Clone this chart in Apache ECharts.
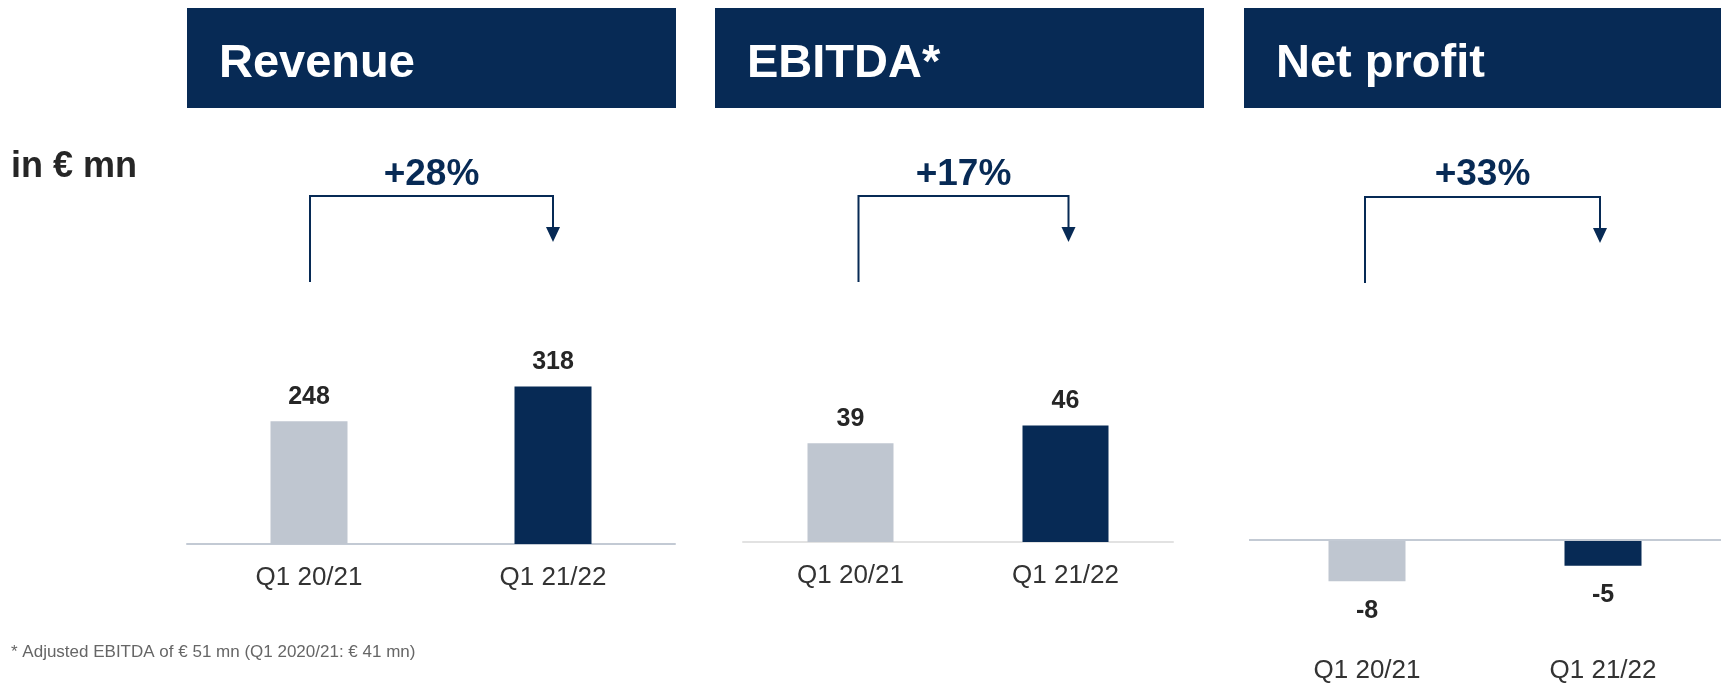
<!DOCTYPE html>
<html>
<head>
<meta charset="utf-8">
<script src="https://cdn.jsdelivr.net/npm/echarts@6/dist/echarts.min.js"></script>
<style>
html,body{margin:0;padding:0;background:#fff;}
#c{width:1721px;height:684px;}
</style>
</head>
<body>
<div id="c"></div>
<script>
const categories = ['Q1 20/21', 'Q1 21/22'];
const panelTitles = ['Revenue', 'EBITDA*', 'Net profit'];
const revenue = [248, 318];
const ebitda = [39, 46];
const netProfit = [-8, -5];
const changeLabels = ['+28%', '+17%', '+33%'];
const unitLabel = 'in € mn';
const footnote = '* Adjusted EBITDA of € 51 mn (Q1 2020/21: € 41 mn)';

const NAVY = '#072A55';
const GRAY = '#BFC6D0';
const barColors = [GRAY, NAVY];
const FONT = '"Liberation Sans", Arial, sans-serif';

const chart = echarts.init(document.getElementById('c'), null, {renderer: 'canvas'});

function barData(arr) {
  return arr.map((v, i) => ({value: v, itemStyle: {color: barColors[i]}}));
}
const valueLabel = {
  show: true, fontFamily: FONT, fontSize: 25, fontWeight: 'bold', color: '#262626'
};
function xAxisCfg(gi, lineColor, showLine, margin) {
  return {
    type: 'category', gridIndex: gi, data: categories,
    axisLine: {show: showLine, onZero: showLine, lineStyle: {color: lineColor, width: 2}},
    axisTick: {show: false},
    axisLabel: {fontFamily: FONT, fontSize: 26, color: '#333333', margin: margin}
  };
}
function yAxisCfg(gi, min, max) {
  return {type: 'value', gridIndex: gi, min: min, max: max, show: false, splitLine: {show: false}};
}

chart.setOption({
  animation: false,
  grid: [
    {left: 187, width: 488, top: 296.5, height: 247.5},
    {left: 743, width: 430, top: 289, height: 253},
    {left: 1249, width: 488, top: 540, height: 106}
  ],
  xAxis: [
    xAxisCfg(0, '#C3CAD4', true, 21),
    xAxisCfg(1, '#E2E2E2', true, 21),
    xAxisCfg(2, '#C3CAD4', false, 15)
  ],
  yAxis: [
    yAxisCfg(0, 0, 500),
    yAxisCfg(1, 0, 100),
    yAxisCfg(2, -20, 0)
  ],
  series: [
    {type: 'bar', xAxisIndex: 0, yAxisIndex: 0, data: barData(revenue), barWidth: 77,
     label: Object.assign({position: 'top', distance: 12}, valueLabel), silent: true},
    {type: 'bar', xAxisIndex: 1, yAxisIndex: 1, data: barData(ebitda), barWidth: 86,
     label: Object.assign({position: 'top', distance: 12}, valueLabel), silent: true},
    {type: 'bar', xAxisIndex: 2, yAxisIndex: 2, data: barData(netProfit), barWidth: 77,
     label: Object.assign({position: 'bottom', distance: 17}, valueLabel), silent: true,
     markLine: {silent: true, symbol: 'none', label: {show: false},
       lineStyle: {color: '#C3CAD4', width: 2, type: 'solid'},
       data: [{yAxis: 0}]}}
  ]
});

const boxes = [[187, 489], [715, 489], [1244, 490]];
const bracketShift = [[1, 0], [8, 3], [-2, -3]];
const elements = [];
panelTitles.forEach((t, i) => {
  elements.push({type: 'rect', shape: {x: boxes[i][0], y: 8, width: boxes[i][1], height: 100},
    style: {fill: NAVY}, silent: true});
  elements.push({type: 'text', x: boxes[i][0] + 32, y: 64,
    style: {text: t, fill: '#FFFFFF', font: 'bold 47px ' + FONT, verticalAlign: 'middle', align: 'left'}, silent: true});
});
elements.push({type: 'text', x: 11, y: 167,
  style: {text: unitLabel, fill: '#262626', font: 'bold 36px ' + FONT, verticalAlign: 'middle'}, silent: true});
elements.push({type: 'text', x: 11, y: 652,
  style: {text: footnote, fill: '#666666', font: '17px ' + FONT, verticalAlign: 'middle'}, silent: true});

for (let g = 0; g < 3; g++) {
  const x1 = chart.convertToPixel({gridIndex: g}, [0, 0])[0] + bracketShift[g][0];
  const x2 = chart.convertToPixel({gridIndex: g}, [1, 0])[0] + bracketShift[g][1];
  const d = g === 2 ? 1 : 0;
  const topY = 196 + d, bottomY = 282 + d, tipY = 242 + d;
  elements.push({type: 'polyline', shape: {points: [[x1, bottomY], [x1, topY], [x2, topY], [x2, tipY - 12]]},
    style: {stroke: NAVY, lineWidth: 2, fill: null}, silent: true});
  elements.push({type: 'polygon', shape: {points: [[x2 - 7, tipY - 15], [x2 + 7, tipY - 15], [x2, tipY]]},
    style: {fill: NAVY}, silent: true});
  elements.push({type: 'text', x: (x1 + x2) / 2, y: 175,
    style: {text: changeLabels[g], fill: NAVY, font: 'bold 37px ' + FONT, align: 'center', verticalAlign: 'middle'}, silent: true});
}
chart.setOption({graphic: {elements: elements}});
</script>
</body>
</html>
